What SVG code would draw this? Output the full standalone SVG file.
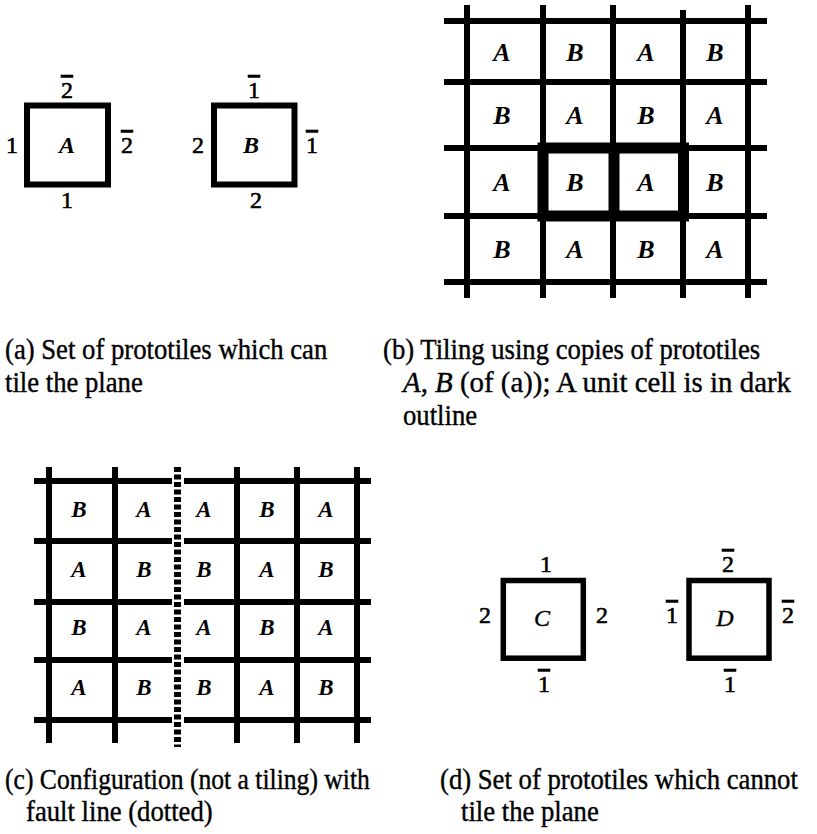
<svg xmlns="http://www.w3.org/2000/svg" width="817" height="834" viewBox="0 0 817 834">
<style>
.bg{fill:#fff}
.tile{fill:none;stroke:#000;stroke-width:6}
.tiled{fill:none;stroke:#000;stroke-width:5.5}
.grid{stroke:#000;stroke-width:6;fill:none}
.thick{fill:none;stroke:#000;stroke-width:11}
.dots{stroke:#000;stroke-width:7;stroke-dasharray:5 2.5;fill:none}
.lbl{font-family:"Liberation Serif","Times New Roman",serif;font-size:24px;text-anchor:middle;fill:#000;stroke:#000;stroke-width:0.6}
.bar{text-decoration:overline}
.let{font-family:"Liberation Serif","Times New Roman",serif;font-style:italic;font-weight:bold;text-anchor:middle;fill:#000}
.letn{font-family:"Liberation Serif","Times New Roman",serif;font-style:italic;font-size:24px;text-anchor:middle;fill:#000;stroke:#000;stroke-width:0.4}
.cap{font-family:"Liberation Serif","Times New Roman",serif;font-size:30px;fill:#000;stroke:#000;stroke-width:0.4}
</style>
<rect class="bg" x="0" y="0" width="817" height="834"/>

<g id="panel-a">
  <g id="tile-A">
    <rect class="tile" x="27" y="105.5" width="81" height="79"/>
    <text class="let" x="67" y="153" font-size="24">A</text>
    <text class="lbl bar" x="67" y="98">2</text>
    <text class="lbl" x="12" y="153">1</text>
    <text class="lbl bar" x="127" y="153">2</text>
    <text class="lbl" x="67" y="208">1</text>
  </g>
  <g id="tile-B">
    <rect class="tile" x="214" y="105.5" width="80.5" height="79"/>
    <text class="let" x="251" y="153" font-size="24">B</text>
    <text class="lbl bar" x="254" y="98">1</text>
    <text class="lbl" x="198" y="153">2</text>
    <text class="lbl bar" x="312" y="153">1</text>
    <text class="lbl" x="256" y="208">2</text>
  </g>
  <text class="cap" transform="matrix(0.89 0 0 1 5 0)" x="0" y="359">(a) Set of prototiles which can</text>
  <text class="cap" transform="matrix(0.89 0 0 1 5 0)" x="0" y="392">tile the plane</text>
</g>

<g id="panel-b">
  <g id="grid-b" class="grid">
    <line x1="444" y1="21" x2="767" y2="21"/>
    <line x1="444" y1="82" x2="767" y2="82"/>
    <line x1="444" y1="148" x2="767" y2="148"/>
    <line x1="444" y1="216" x2="767" y2="216"/>
    <line x1="444" y1="282" x2="767" y2="282"/>
    <line x1="467" y1="5" x2="467" y2="298"/>
    <line x1="543" y1="5" x2="543" y2="298"/>
    <line x1="613" y1="5" x2="613" y2="298"/>
    <line x1="683" y1="10" x2="683" y2="298"/>
    <line x1="748" y1="5" x2="748" y2="298"/>
  </g>
  <g id="unit-cell">
    <rect class="thick" x="543" y="148" width="140.5" height="68"/>
    <line class="thick" x1="614" y1="148" x2="614" y2="216"/>
  </g>
  <g id="letters-b" class="let" font-size="26">
    <text x="502" y="61">A</text><text x="575" y="61">B</text><text x="646" y="61">A</text><text x="715" y="61">B</text>
    <text x="502" y="124">B</text><text x="575" y="124">A</text><text x="646" y="124">B</text><text x="715" y="124">A</text>
    <text x="502" y="191">A</text><text x="575" y="191">B</text><text x="646" y="191">A</text><text x="715" y="191">B</text>
    <text x="502" y="258">B</text><text x="575" y="258">A</text><text x="646" y="258">B</text><text x="715" y="258">A</text>
  </g>
  <text class="cap" transform="matrix(0.89 0 0 1 383 0)" x="0" y="359">(b) Tiling using copies of prototiles</text>
  <text class="cap" transform="matrix(0.89 0 0 1 403 0)" x="0" y="392" textLength="436" lengthAdjust="spacingAndGlyphs"><tspan font-style="italic">A</tspan>, <tspan font-style="italic">B</tspan> (of (a)); A unit cell is in dark</text>
  <text class="cap" transform="matrix(0.89 0 0 1 403 0)" x="0" y="425">outline</text>
</g>

<g id="panel-c">
  <g id="grid-c" class="grid">
    <line x1="34" y1="481" x2="172" y2="481"/><line x1="184" y1="481" x2="371" y2="481"/>
    <line x1="34" y1="541" x2="172" y2="541"/><line x1="184" y1="541" x2="371" y2="541"/>
    <line x1="34" y1="602" x2="172" y2="602"/><line x1="184" y1="602" x2="371" y2="602"/>
    <line x1="34" y1="660" x2="172" y2="660"/><line x1="184" y1="660" x2="371" y2="660"/>
    <line x1="34" y1="720" x2="172" y2="720"/><line x1="184" y1="720" x2="371" y2="720"/>
    <line x1="49" y1="467" x2="49" y2="743"/>
    <line x1="115" y1="467" x2="115" y2="743"/>
    <line x1="237" y1="467" x2="237" y2="743"/>
    <line x1="297" y1="467" x2="297" y2="743"/>
    <line x1="357" y1="467" x2="357" y2="743"/>
  </g>
  <line id="fault-line" class="dots" x1="177.5" y1="467" x2="177.5" y2="747"/>
  <g id="letters-c" class="let" font-size="23">
    <text x="79" y="517">B</text><text x="144" y="517">A</text><text x="204" y="517">A</text><text x="267" y="517">B</text><text x="326" y="517">A</text>
    <text x="79" y="577">A</text><text x="144" y="577">B</text><text x="204" y="577">B</text><text x="267" y="577">A</text><text x="326" y="577">B</text>
    <text x="79" y="635">B</text><text x="144" y="635">A</text><text x="204" y="635">A</text><text x="267" y="635">B</text><text x="326" y="635">A</text>
    <text x="79" y="695">A</text><text x="144" y="695">B</text><text x="204" y="695">B</text><text x="267" y="695">A</text><text x="326" y="695">B</text>
  </g>
  <text class="cap" transform="matrix(0.89 0 0 1 5 0)" x="0" y="789" textLength="410" lengthAdjust="spacingAndGlyphs">(c) Configuration (not a tiling) with</text>
  <text class="cap" transform="matrix(0.89 0 0 1 26 0)" x="0" y="821">fault line (dotted)</text>
</g>

<g id="panel-d">
  <g id="tile-C">
    <rect class="tiled" x="503.3" y="580.5" width="80" height="77.7"/>
    <text class="letn" x="542" y="626">C</text>
    <text class="lbl" x="546" y="572">1</text>
    <text class="lbl" x="485" y="623">2</text>
    <text class="lbl" x="602" y="623">2</text>
    <text class="lbl bar" x="544" y="692">1</text>
  </g>
  <g id="tile-D">
    <rect class="tiled" x="689" y="580.5" width="80" height="77.7"/>
    <text class="letn" x="725" y="626">D</text>
    <text class="lbl bar" x="728" y="572">2</text>
    <text class="lbl bar" x="672" y="623">1</text>
    <text class="lbl bar" x="788" y="623">2</text>
    <text class="lbl bar" x="730" y="692">1</text>
  </g>
  <text class="cap" transform="matrix(0.89 0 0 1 440 0)" x="0" y="789">(d) Set of prototiles which cannot</text>
  <text class="cap" transform="matrix(0.89 0 0 1 461 0)" x="0" y="821">tile the plane</text>
</g>
</svg>
